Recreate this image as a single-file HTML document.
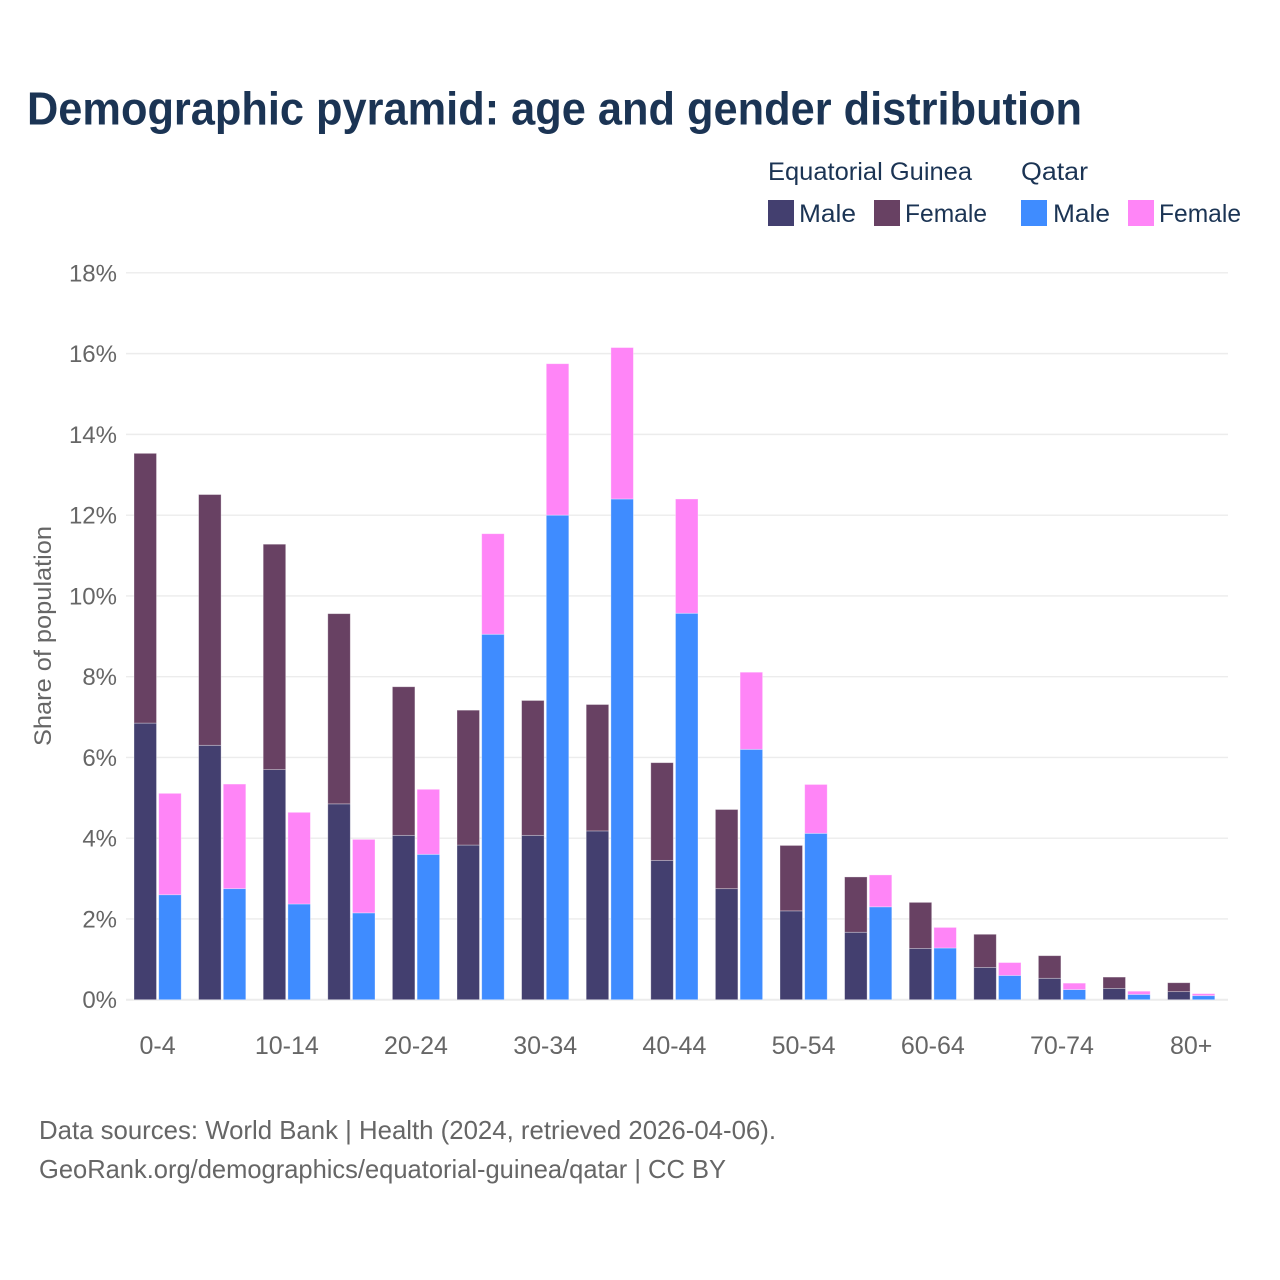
<!DOCTYPE html>
<html lang="en">
<head>
<meta charset="utf-8">
<title>Demographic pyramid: age and gender distribution</title>
<style>
html,body{margin:0;padding:0;background:#fff}
svg{display:block}
text{font-family:"Liberation Sans",sans-serif}
</style>
</head>
<body>
<svg id="chart" xmlns="http://www.w3.org/2000/svg" width="1280" height="1280" viewBox="0 0 1280 1280">
  <rect width="1280" height="1280" fill="#fff"/>
  <text x="27" y="124.5" font-size="46" font-weight="700" fill="#1b3454" textLength="1055" lengthAdjust="spacingAndGlyphs">Demographic pyramid: age and gender distribution</text>

  <g font-size="25" fill="#1b3454">
    <text x="768" y="180" textLength="204" lengthAdjust="spacingAndGlyphs">Equatorial Guinea</text>
    <text x="1021" y="180" textLength="67" lengthAdjust="spacingAndGlyphs">Qatar</text>
    <rect x="768" y="200" width="26" height="26" fill="#433f6f"/>
    <text x="799" y="222" textLength="57" lengthAdjust="spacingAndGlyphs">Male</text>
    <rect x="874" y="200" width="26" height="26" fill="#684163"/>
    <text x="905" y="222" textLength="82" lengthAdjust="spacingAndGlyphs">Female</text>
    <rect x="1021" y="200" width="26" height="26" fill="#3f8cff"/>
    <text x="1053" y="222" textLength="57" lengthAdjust="spacingAndGlyphs">Male</text>
    <rect x="1128" y="200" width="26" height="26" fill="#ff85f7"/>
    <text x="1159" y="222" textLength="82" lengthAdjust="spacingAndGlyphs">Female</text>
  </g>

  <g id="grid"></g>
  <g id="yticks"></g>
  <g id="bars"></g>
  <g id="xticks"></g>

  <text transform="translate(51 636) rotate(-90)" text-anchor="middle" font-size="24" fill="#666" textLength="220" lengthAdjust="spacingAndGlyphs">Share of population</text>

  <g font-size="26" fill="#666">
    <text x="39" y="1139" textLength="737" lengthAdjust="spacingAndGlyphs">Data sources: World Bank | Health (2024, retrieved 2026-04-06).</text>
    <text x="39" y="1178" textLength="687" lengthAdjust="spacingAndGlyphs">GeoRank.org/demographics/equatorial-guinea/qatar | CC BY</text>
  </g>
</svg>
<script>
const ageGroups = ["0-4","5-9","10-14","15-19","20-24","25-29","30-34","35-39","40-44","45-49","50-54","55-59","60-64","65-69","70-74","75-79","80+"];
const shownAgeLabels = ["0-4","10-14","20-24","30-34","40-44","50-54","60-64","70-74","80+"];
const eqMale = [6.85,6.30,5.70,4.85,4.07,3.83,4.07,4.18,3.45,2.75,2.20,1.67,1.27,0.80,0.53,0.28,0.20];
const eqFemale = [6.68,6.21,5.58,4.71,3.68,3.34,3.34,3.13,2.42,1.96,1.62,1.37,1.14,0.82,0.56,0.28,0.22];
const qatarMale = [2.60,2.75,2.37,2.15,3.60,9.05,12.00,12.40,9.57,6.20,4.12,2.30,1.28,0.60,0.25,0.13,0.10];
const qatarFemale = [2.51,2.59,2.27,1.82,1.61,2.49,3.75,3.75,2.83,1.91,1.21,0.79,0.51,0.32,0.16,0.08,0.05];
const yTicks = [0,2,4,6,8,10,12,14,16,18];

const NS = "http://www.w3.org/2000/svg";
const yScale = v => 999.7 - v * 40.38;
const bandStart = i => 134 + i * 64.6;
const barWidth = 22.5;
const barGap = 2.2;

function make(tag, attrs, parent) {
  const el = document.createElementNS(NS, tag);
  for (const k in attrs) el.setAttribute(k, attrs[k]);
  parent.appendChild(el);
  return el;
}

const grid = document.getElementById("grid");
const yticks = document.getElementById("yticks");
yTicks.forEach(t => {
  const line = make("line", {x1:126, x2:1228, y1:yScale(t), y2:yScale(t), stroke:"#ececec", "stroke-width":t === 0 ? 2 : 1.4}, grid);
  
  
  const label = make("text", {x:117, y:yScale(t) + 8.5, "text-anchor":"end", "font-size":24, fill:"#666"}, yticks);
  label.textContent = t + "%";
  
  
});

const bars = document.getElementById("bars");
function drawBar(x, base, value, fill, name) {
  const top = yScale(base + value);
  const rect = make("rect", {x:x, y:top, width:barWidth, height:yScale(base) - top, fill:fill, stroke:"#fff", "stroke-opacity":0.4, "stroke-width":0.8}, bars);
  
  
}
ageGroups.forEach((g, i) => {
  const x1 = bandStart(i);
  const x2 = x1 + barWidth + barGap;
  drawBar(x1, 0, eqMale[i], "#433f6f", "bar-equatorial-guinea-male");
  drawBar(x1, eqMale[i], eqFemale[i], "#684163", "bar-equatorial-guinea-female");
  drawBar(x2, 0, qatarMale[i], "#3f8cff", "bar-qatar-male");
  drawBar(x2, qatarMale[i], qatarFemale[i], "#ff85f7", "bar-qatar-female");
});

const xticks = document.getElementById("xticks");
ageGroups.forEach((g, i) => {
  if (shownAgeLabels.indexOf(g) < 0) return;
  const label = make("text", {x:bandStart(i) + barWidth + barGap / 2, y:1054, "text-anchor":"middle", "font-size":25, fill:"#666"}, xticks);
  label.textContent = g;
  
  
});
</script>
</body>
</html>
